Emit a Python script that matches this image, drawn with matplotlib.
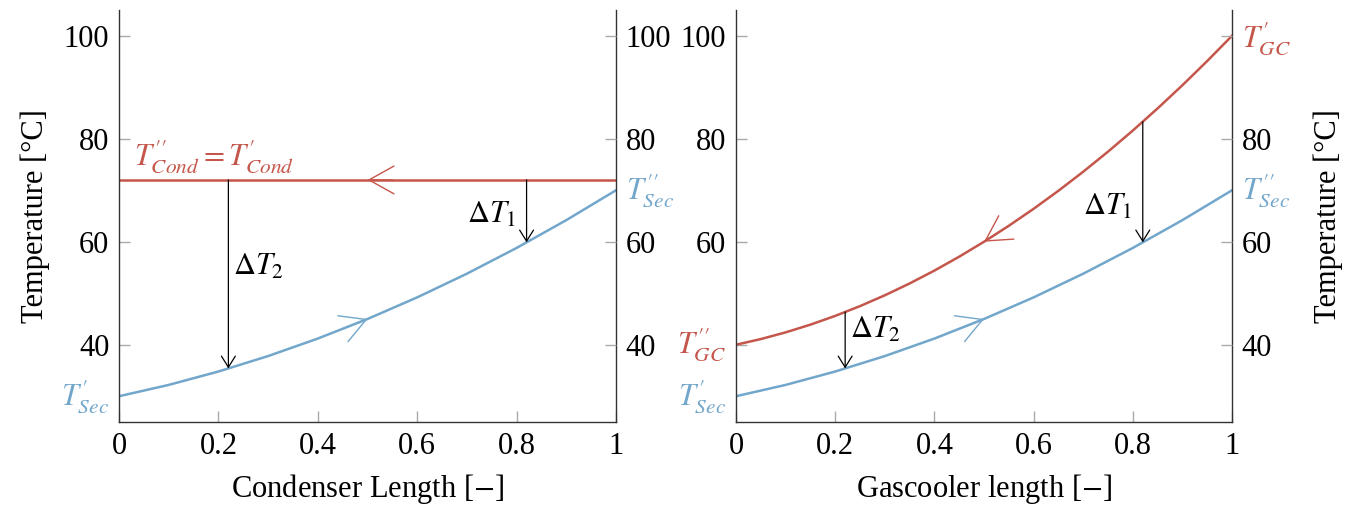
import numpy as np
import matplotlib.pyplot as plt

plt.rcParams['font.family'] = ['Liberation Serif', 'DejaVu Serif']
plt.rcParams['mathtext.fontset'] = 'stix'

# values
length = [0.0, 0.05, 0.1, 0.15, 0.2, 0.25, 0.3, 0.35, 0.4, 0.45, 0.5,
          0.55, 0.6, 0.65, 0.7, 0.75, 0.8, 0.85, 0.9, 0.95, 1.0]
t_cond = [72] * 21
t_sec_cond = [30, 31.1, 32.2, 33.5, 34.8, 36.3, 37.8, 39.5, 41.2, 43.1, 45,
              47.1, 49.2, 51.5, 53.8, 56.3, 58.8, 61.5, 64.2, 67.1, 70]
t_gc = [40, 41.1, 42.4, 43.9, 45.6, 47.5, 49.6, 51.9, 54.4, 57.1, 60,
        63.1, 66.4, 69.9, 73.6, 77.5, 81.6, 85.9, 90.4, 95.1, 100]
t_sec_gc = [30, 31.1, 32.2, 33.5, 34.8, 36.3, 37.8, 39.5, 41.2, 43.1, 45,
            47.1, 49.2, 51.5, 53.8, 56.3, 58.8, 61.5, 64.2, 67.1, 70]
dt_pos = [0.22, 0.82]   # where dT_2 and dT_1 are drawn
yticks = [40, 60, 80, 100]
xticks = [0, 0.2, 0.4, 0.6, 0.8, 1]
xtick_labels = ['0', '0.2', '0.4', '0.6', '0.8', '1']

red = '#c5564b'
blue = '#72a7cb'
fs = 22

P1 = r'^{\prime}'
P2 = r'^{\prime\prime}'

fig = plt.figure(figsize=(13.62, 5.05), dpi=100)
ax1 = fig.add_axes([0.0874, 0.1644, 0.3649, 0.8158])
ax2 = fig.add_axes([0.5404, 0.1644, 0.3642, 0.8158])


def setup(ax, left_labels, right_labels, xlabel):
    ax.set_xlim(0, 1)
    ax.set_ylim(25, 105)
    ax.spines['top'].set_visible(False)
    for s in ['left', 'right', 'bottom']:
        ax.spines[s].set_color('#333333')
        ax.spines[s].set_linewidth(1.0)
    ax.set_xticks(xticks)
    ax.set_xticklabels(xtick_labels)
    ax.set_yticks(yticks)
    ax.set_yticklabels(left_labels)
    ax.tick_params(direction='in', length=8, width=1, color='#aaaaaa',
                   labelsize=fs, pad=7)
    ax.tick_params(axis='y', right=True)
    r = ax.twinx()
    r.set_ylim(ax.get_ylim())
    r.set_yticks(yticks)
    r.set_yticklabels(right_labels)
    r.tick_params(direction='in', length=8, width=1, color='#aaaaaa',
                  labelsize=fs, pad=7)
    for s in r.spines.values():
        s.set_visible(False)
    ax.set_xlabel(xlabel, fontsize=fs, labelpad=8)
    return r


def flow_arrow(ax, x, y, i_from, i_to, color):
    ax.annotate('', xy=(x[i_to], y[i_to]), xytext=(x[i_from], y[i_from]),
                arrowprops=dict(arrowstyle='->,head_length=0.9,head_width=0.5',
                                color=color, lw=1.0, mutation_scale=20,
                                shrinkA=0, shrinkB=0))


def dt_arrow(ax, x, y_top, y_bot):
    ax.annotate('', xy=(x, y_bot), xytext=(x, y_top),
                arrowprops=dict(arrowstyle='->,head_length=0.4,head_width=0.25',
                                color='black', lw=0.9, mutation_scale=20,
                                shrinkA=0, shrinkB=0))


# ---- condenser
r1 = setup(ax1, ['40', '60', '80', '100'], ['40', '60', '80', '100'],
           r'Condenser Length [$-$]')
ax1.set_ylabel('Temperature [°C]', fontsize=fs, labelpad=10)
ax1.plot(length, t_cond, color=red, lw=1.8)
ax1.plot(length, t_sec_cond, color=blue, lw=1.8)
flow_arrow(ax1, length, t_cond, 11, 10, red)
flow_arrow(ax1, length, t_sec_cond, 9, 10, blue)
for xp in dt_pos:
    dt_arrow(ax1, xp, np.interp(xp, length, t_cond), np.interp(xp, length, t_sec_cond))
ax1.text(dt_pos[0] + 0.01, 55, r'$\Delta T_2$', fontsize=fs, va='center', ha='left')
ax1.text(dt_pos[1] - 0.02, 65.2, r'$\Delta T_1$', fontsize=fs, va='center', ha='right')
ax1.text(0.03, t_cond[0] + 0.8, '$T' + P2 + '_{Cond}=T' + P1 + '_{Cond}$',
         color=red, fontsize=fs, va='bottom', ha='left')
ax1.text(-0.02, t_sec_cond[0], '$T' + P1 + '_{Sec}$', color=blue, fontsize=fs,
         va='center', ha='right', transform=ax1.get_yaxis_transform())
ax1.text(1.02, t_sec_cond[-1], '$T' + P2 + '_{Sec}$', color=blue, fontsize=fs,
         va='center', ha='left', transform=ax1.get_yaxis_transform())

# ---- gascooler
r2 = setup(ax2, ['', '60', '80', '100'], ['40', '60', '80', ''],
           r'Gascooler length [$-$]')
r2.set_ylabel('Temperature [°C]', fontsize=fs, labelpad=30)
ax2.plot(length, t_gc, color=red, lw=1.8)
ax2.plot(length, t_sec_gc, color=blue, lw=1.8)
flow_arrow(ax2, length, t_gc, 11, 10, red)
flow_arrow(ax2, length, t_sec_gc, 9, 10, blue)
for xp in dt_pos:
    dt_arrow(ax2, xp, np.interp(xp, length, t_gc), np.interp(xp, length, t_sec_gc))
ax2.text(dt_pos[0] + 0.01, 42.9, r'$\Delta T_2$', fontsize=fs, va='center', ha='left')
ax2.text(dt_pos[1] - 0.02, 66.7, r'$\Delta T_1$', fontsize=fs, va='center', ha='right')
ax2.text(-0.02, t_gc[0], '$T' + P2 + '_{GC}$', color=red, fontsize=fs,
         va='center', ha='right', transform=ax2.get_yaxis_transform())
ax2.text(-0.02, t_sec_gc[0], '$T' + P1 + '_{Sec}$', color=blue, fontsize=fs,
         va='center', ha='right', transform=ax2.get_yaxis_transform())
ax2.text(1.02, t_gc[-1] - 0.5, '$T' + P1 + '_{GC}$', color=red, fontsize=fs,
         va='center', ha='left', transform=ax2.get_yaxis_transform())
ax2.text(1.02, t_sec_gc[-1], '$T' + P2 + '_{Sec}$', color=blue, fontsize=fs,
         va='center', ha='left', transform=ax2.get_yaxis_transform())

fig.savefig('out.png', dpi=100)
